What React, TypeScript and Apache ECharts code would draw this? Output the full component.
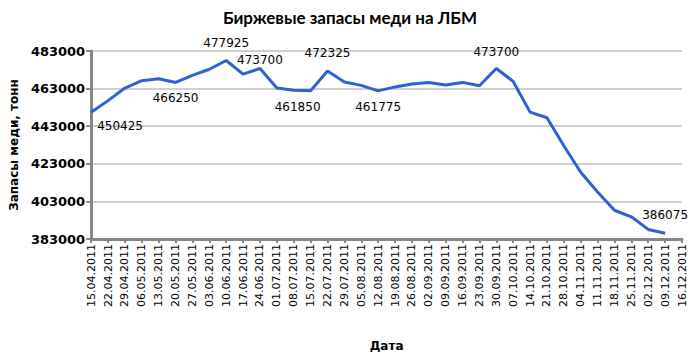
import React, { useEffect, useRef } from "react";
import * as echarts from "echarts";

const categories = [
  "15.04.2011", "22.04.2011", "29.04.2011", "06.05.2011", "13.05.2011", "20.05.2011",
  "27.05.2011", "03.06.2011", "10.06.2011", "17.06.2011", "24.06.2011", "01.07.2011",
  "08.07.2011", "15.07.2011", "22.07.2011", "29.07.2011", "05.08.2011", "12.08.2011",
  "19.08.2011", "26.08.2011", "02.09.2011", "09.09.2011", "16.09.2011", "23.09.2011",
  "30.09.2011", "07.10.2011", "14.10.2011", "21.10.2011", "28.10.2011", "04.11.2011",
  "11.11.2011", "18.11.2011", "25.11.2011", "02.12.2011", "09.12.2011", "16.12.2011",
];

const stocks = [
  450425, 456600, 463300, 467200, 468200, 466250,
  470000, 473300, 477925, 470700, 473700, 463300,
  462100, 461850, 472325, 466500, 464700, 461775,
  463900, 465400, 466300, 464900, 466300, 464500,
  473700, 466800, 450500, 447500, 432600, 418500,
  408000, 398300, 394800, 388100, 386075,
];

const labelledIndices = [0, 5, 8, 10, 13, 14, 17, 24, 34];

const yMin = 383000;
const yMax = 483000;
const yStep = 20000;

const labelStyle: Record<number, any> = {
  0: { position: "right", distance: 6, offset: [0, 14] },
  5: { position: "bottom", distance: 10 },
  8: { position: "top", distance: 12 },
  10: { position: "top", distance: 2 },
  13: { position: "bottom", distance: 10, offset: [-13, 0] },
  14: { position: "top", distance: 12 },
  17: { position: "bottom", distance: 10 },
  24: { position: "top", distance: 10 },
  34: { position: "top", distance: 12 },
};

export default function App() {
  const ref = useRef<HTMLDivElement>(null);
  useEffect(() => {
    if (!ref.current) return;
    const chart = echarts.init(ref.current, null, { renderer: "svg" });
    const data = stocks.map((v, i) =>
      labelledIndices.includes(i)
        ? {
            value: v,
            label: {
              show: true,
              formatter: String(v),
              color: "#000",
              fontFamily: "DejaVu Sans",
              fontSize: 12,
              ...labelStyle[i],
            },
          }
        : v
    );
    chart.setOption({
      animation: false,
      backgroundColor: "#fff",
      title: {
        text: "Биржевые запасы меди на ЛБМ",
        left: "center",
        top: 4,
        textStyle: { fontFamily: "Lato", fontWeight: "bold", fontSize: 17, color: "#000" },
      },
      grid: { left: 85, right: 18, top: 51, bottom: 116, containLabel: false },
      xAxis: {
        type: "category",
        data: categories,
        boundaryGap: false,
        name: "Дата",
        nameLocation: "middle",
        nameGap: 101,
        nameTextStyle: { fontFamily: "DejaVu Sans", fontWeight: "bold", fontSize: 12, color: "#000" },
        axisLine: { show: true, lineStyle: { color: "#868686", width: 3 } },
        axisTick: { show: true, inside: false, length: 4, alignWithLabel: true, lineStyle: { color: "#868686", width: 2 } },
        axisLabel: {
          interval: 0,
          rotate: 90,
          margin: 5,
          fontFamily: "DejaVu Sans",
          fontSize: 11,
          color: "#000",
        },
        splitLine: { show: false },
      },
      yAxis: {
        type: "value",
        min: yMin,
        max: yMax,
        interval: yStep,
        name: "Запасы меди, тонн",
        nameLocation: "middle",
        nameGap: 67,
        nameTextStyle: { fontFamily: "DejaVu Sans", fontWeight: "bold", fontSize: 12, color: "#000" },
        axisLine: { show: true, lineStyle: { color: "#868686", width: 3 } },
        axisTick: { show: true, inside: false, length: 5, lineStyle: { color: "#868686", width: 2 } },
        axisLabel: {
          margin: 6,
          fontFamily: "DejaVu Sans",
          fontWeight: "bold",
          fontSize: 13,
          color: "#000",
          formatter: (v: number) => String(v),
        },
        splitLine: { show: true, lineStyle: { color: "#bfbfbf", width: 1.5 } },
      },
      series: [
        {
          type: "line",
          data,
          symbol: "circle",
          symbolSize: 0,
          showSymbol: true,
          lineStyle: { color: "#2f62d0", width: 3 },
          itemStyle: { color: "#2f62d0" },
        },
      ],
    });
    return () => chart.dispose();
  }, []);
  return <div ref={ref} style={{ position: "fixed", left: 0, top: 0, width: 700, height: 357 }} />;
}
